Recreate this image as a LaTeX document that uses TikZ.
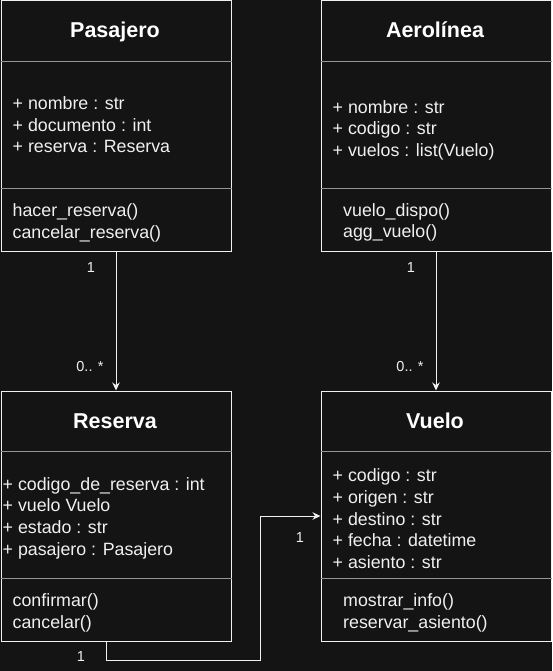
\documentclass[tikz,border=0pt]{standalone}
\usepackage{fontspec}
\setmainfont{Liberation Sans}
\usetikzlibrary{arrows.meta}
\definecolor{bg}{RGB}{20,20,20}
\definecolor{fg}{RGB}{240,240,240}
\definecolor{sepc}{RGB}{150,150,150}
\tikzset{
  box/.style={draw=fg, line width=1pt, fill=bg, rectangle, anchor=north west,
    minimum width=230pt, minimum height=250pt, inner sep=0pt},
  sepline/.style={draw=sepc, line width=1.6pt},
  ttl/.style={anchor=base, inner sep=0pt, text=white, font=\bfseries\fontsize{21.5}{24}\selectfont},
  attr/.style={anchor=base west, inner sep=0pt, text=fg, font=\fontsize{17.8}{21}\selectfont},
  lbl/.style={anchor=base, inner sep=0pt, text=fg, font=\fontsize{14.5}{17}\selectfont},
  arr/.style={draw=fg, line width=1pt, -{Stealth[length=8pt,width=7.5pt]}},
}
\begin{document}
\begin{tikzpicture}[x=1pt,y=-1pt]
\fill[bg] (0,0) rectangle (552,671);
\useasboundingbox (0,0) rectangle (552,671);

% boxes
\node[box] (pas) at (0.5,0.5) {};
\node[box] (aer) at (320.5,0.5) {};
\node[box] (res) at (0.5,390.5) {};
\node[box] (vue) at (320.5,390.5) {};

% separators
\foreach \b/\ya/\yb in {pas/61/188, aer/61/188, res/61/188, vue/61/188}{
  \draw[sepline] ([yshift=-\ya pt]\b.north west) -- ([yshift=-\ya pt]\b.north east);
  \draw[sepline] ([yshift=-\yb pt]\b.north west) -- ([yshift=-\yb pt]\b.north east);
}

% Pasajero
\node[ttl] (pasT) at (115,37.3) {Pasajero};
\node[attr] (pasA1) at (12.5,110) {+ nombre : str};
\node[attr] (pasA2) at (12.5,131.5) {+ documento : int};
\node[attr] (pasA3) at (12.5,152.8) {+ reserva : Reserva};
\node[attr] (pasM1) at (12.5,216.5) {hacer\_reserva()};
\node[attr] (pasM2) at (12.5,238) {cancelar\_reserva()};

% Aerolinea
\node[ttl] (aerT) at (435,37.3) {Aerolínea};
\node[attr] (aerA1) at (332.5,113.3) {+ nombre : str};
\node[attr] (aerA2) at (332.5,135) {+ codigo : str};
\node[attr] (aerA3) at (332.5,156.5) {+ vuelos : list(Vuelo)};
\node[attr] (aerM1) at (343,216.3) {vuelo\_dispo()};
\node[attr] (aerM2) at (343,237.5) {agg\_vuelo()};

% Reserva
\node[ttl] (resT) at (115,428.3) {Reserva};
\node[attr] (resA1) at (2.5,490) {+ codigo\_de\_reserva : int};
\node[attr] (resA2) at (2.5,511.7) {+ vuelo Vuelo};
\node[attr] (resA3) at (2.5,533.3) {+ estado : str};
\node[attr] (resA4) at (2.5,555) {+ pasajero : Pasajero};
\node[attr] (resM1) at (12.5,606.7) {confirmar()};
\node[attr] (resM2) at (12.5,628.3) {cancelar()};

% Vuelo
\node[ttl] (vueT) at (435,428.3) {Vuelo};
\node[attr] (vueA1) at (332.5,481.7) {+ codigo : str};
\node[attr] (vueA2) at (332.5,503.3) {+ origen : str};
\node[attr] (vueA3) at (332.5,525) {+ destino : str};
\node[attr] (vueA4) at (332.5,546.7) {+ fecha : datetime};
\node[attr] (vueA5) at (332.5,568.3) {+ asiento : str};
\node[attr] (vueM1) at (343,606.7) {mostrar\_info()};
\node[attr] (vueM2) at (343,628.3) {reservar\_asiento()};

% connectors
\draw[arr] (pas.south) -- (res.north);
\draw[arr] (aer.south) -- (vue.north);
\coordinate (bend) at (260,660);
\draw[arr] ([xshift=-10pt]res.south) |- (bend) |- (vue.west);

% multiplicities
\node[lbl] (l1) at (91,272.3) {1};
\node[lbl] (l2) at (90,371.7) {0.. *};
\node[lbl] (l3) at (411,272.3) {1};
\node[lbl] (l4) at (410,371.7) {0.. *};
\node[lbl] (l5) at (81,661.7) {1};
\node[lbl] (l6) at (300,542.3) {1};
\end{tikzpicture}
\end{document}
